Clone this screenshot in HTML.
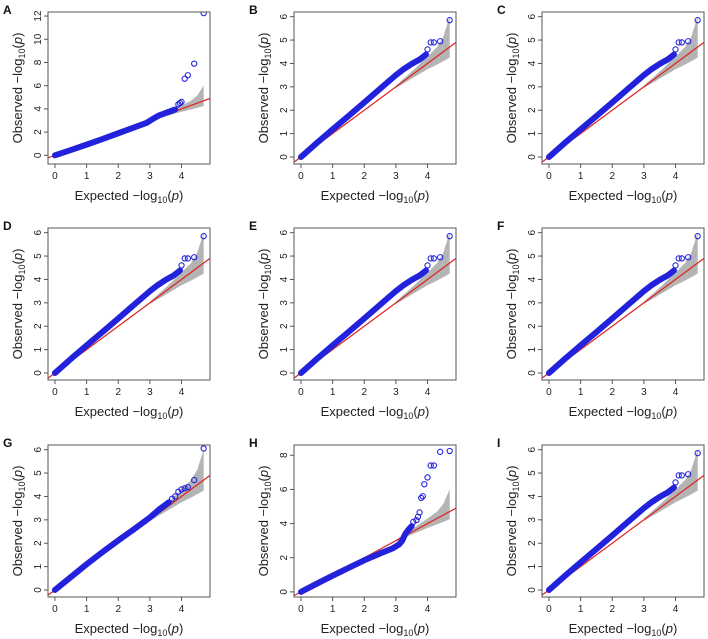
<!DOCTYPE html>
<html><head><meta charset="utf-8"><style>
html,body{margin:0;padding:0;background:#fff}
svg{display:block;font-family:"Liberation Sans",Arial,sans-serif}
</style></head><body>
<svg id="fig" width="708" height="639" viewBox="0 0 708 639"></svg>
<script>
const NS="http://www.w3.org/2000/svg";
const panelLabels=["A","B","C","D","E","F","G","H","I"];
const yMaxTicks=[12,6,6,6,6,6,6,8,6];
const yTickStep=[2,1,1,1,1,1,1,2,1];
const yLim=[[-0.75,12.35],[-0.3,6.2],[-0.3,6.2],[-0.3,6.2],[-0.3,6.2],[-0.3,6.2],[-0.3,6.2],[-0.3,8.6],[-0.3,6.2]];
const xTicks=[0,1,2,3,4];
// dense body (expected, observed)
const denseExpA=[0,0.5,1,1.5,2,2.5,2.9,3.1,3.3,3.5,3.7,3.8];
const denseObsA=[0,0.45,0.92,1.4,1.9,2.4,2.8,3.15,3.45,3.65,3.85,3.95];
const denseExpB=[0,0.5,1,1.5,2,2.5,3,3.25,3.5,3.75,3.95];
const denseObsB=[0,0.6,1.18,1.75,2.33,2.92,3.5,3.76,3.98,4.17,4.38];
const denseExpG=[0,0.5,1,1.5,2,2.5,3,3.3,3.6];
const denseObsG=[0,0.55,1.1,1.62,2.12,2.6,3.1,3.45,3.75];
const denseExpH=[0,0.5,1,1.5,2,2.5,2.9,3.1,3.2,3.3,3.4,3.5];
const denseObsH=[0,0.48,0.95,1.4,1.85,2.25,2.55,2.78,3.0,3.4,3.65,3.85];
// tail points
const tailExpA=[3.9,3.95,4.0,4.1,4.2,4.4,4.7];
const tailObsA=[4.4,4.5,4.6,6.6,6.9,7.9,12.25];
const tailExpB=[4.0,4.1,4.2,4.4,4.7];
const tailObsB=[4.6,4.9,4.9,4.95,5.85];
const tailExpG=[3.7,3.8,3.9,4.0,4.1,4.2,4.4,4.7];
const tailObsG=[3.9,4.0,4.2,4.3,4.35,4.4,4.7,6.05];
const tailExpH=[3.55,3.65,3.7,3.75,3.8,3.85,3.9,4.0,4.1,4.2,4.4,4.7];
const tailObsH=[4.1,4.2,4.4,4.65,5.5,5.6,6.3,6.7,7.4,7.4,8.2,8.25];
// confidence band
const bandX=[3.0,3.5,4.0,4.3,4.5,4.7];
const bandLo=[2.95,3.35,3.75,3.95,4.1,4.25];
const bandHi=[3.05,3.65,4.3,4.7,5.15,6.0];

const dense=[[denseExpA,denseObsA],[denseExpB,denseObsB],[denseExpB,denseObsB],[denseExpB,denseObsB],[denseExpB,denseObsB],[denseExpB,denseObsB],[denseExpG,denseObsG],[denseExpH,denseObsH],[denseExpB,denseObsB]];
const tails=[[tailExpA,tailObsA],[tailExpB,tailObsB],[tailExpB,tailObsB],[tailExpB,tailObsB],[tailExpB,tailObsB],[tailExpB,tailObsB],[tailExpG,tailObsG],[tailExpH,tailObsH],[tailExpB,tailObsB]];

const colLeft=[48,294,542], rowTop=[12,228,445], W=162, H=152;
const xMin=-0.22,xMax=4.9;
const svg=document.getElementById('fig');
function el(t,a,p){const e=document.createElementNS(NS,t);for(const k in a)e.setAttribute(k,a[k]);(p||svg).appendChild(e);return e;}

panelLabels.forEach((lab,i)=>{
  const L=colLeft[i%3],T=rowTop[Math.floor(i/3)];
  const g=el('g',{transform:`translate(${L},${T})`});
  
  
  const [y0,y1]=yLim[i];
  const sx=v=>(v-xMin)/(xMax-xMin)*W;
  const sy=v=>H-(v-y0)/(y1-y0)*H;
  const cid='clip'+i;
  const cp=el('clipPath',{id:cid},g);el('rect',{x:0,y:0,width:W,height:H},cp);
  const pg=el('g',{'clip-path':`url(#${cid})`},g);
  let pts=bandX.map((x,k)=>sx(x)+','+sy(bandHi[k]));
  for(let k=bandX.length-1;k>=0;k--)pts.push(sx(bandX[k])+','+sy(bandLo[k]));
  const band=el('polygon',{points:pts.join(' '),fill:'#b4b4b4'},pg);
  
  
  const rl=el('line',{x1:sx(xMin),y1:sy(xMin),x2:sx(xMax),y2:sy(xMax),stroke:'#e02020','stroke-width':1.2},pg);
  
  
  const [dx,dy]=dense[i];
  const dl=el('polyline',{points:dx.map((x,k)=>sx(x)+','+sy(dy[k])).join(' '),fill:'none',stroke:'#2222dd','stroke-width':6,'stroke-linecap':'round','stroke-linejoin':'round'},pg);
  
  
  const [tx,ty]=tails[i];
  tx.forEach((x,k)=>{
    const c=el('circle',{cx:sx(x),cy:sy(ty[k]),r:2.6,fill:'none',stroke:'#2222dd','stroke-width':1.1},pg);
    
    
  });
  const bx=el('rect',{x:0,y:0,width:W,height:H,fill:'none',stroke:'#555','stroke-width':1},g);
  
  
  xTicks.forEach(t=>{
    el('line',{x1:sx(t),x2:sx(t),y1:H,y2:H+4,stroke:'#555'},g);
    const tt=el('text',{x:sx(t),y:H+15,'font-size':10,'text-anchor':'middle',fill:'#222'},g);
    tt.textContent=t;
    
    
  });
  for(let t=0;t<=yMaxTicks[i];t+=yTickStep[i]){
    el('line',{x1:0,x2:-4,y1:sy(t),y2:sy(t),stroke:'#555'},g);
    const tt=el('text',{x:0,y:0,'font-size':10,'text-anchor':'middle',fill:'#222',transform:`translate(-7,${sy(t)}) rotate(-90)`},g);
    tt.textContent=t;
    
    
  }
  const xt=el('text',{x:W/2,y:H+36,'font-size':13,'text-anchor':'middle',fill:'#222'},g);
  xt.innerHTML='Expected  \u2212log<tspan font-size="9" dy="3">10</tspan><tspan dy="-3">(</tspan><tspan font-style="italic">p</tspan>)';
  
  
  const yt=el('text',{x:0,y:0,'font-size':13,'text-anchor':'middle',fill:'#222',transform:`translate(-26,${H/2}) rotate(-90)`},g);
  yt.innerHTML='Observed  \u2212log<tspan font-size="9" dy="3">10</tspan><tspan dy="-3">(</tspan><tspan font-style="italic">p</tspan>)';
  
  
  const pl=el('text',{x:-45,y:2,'font-size':12,'font-weight':'bold',fill:'#111'},g);
  pl.textContent=lab;
  
  
});
</script>
</body></html>
